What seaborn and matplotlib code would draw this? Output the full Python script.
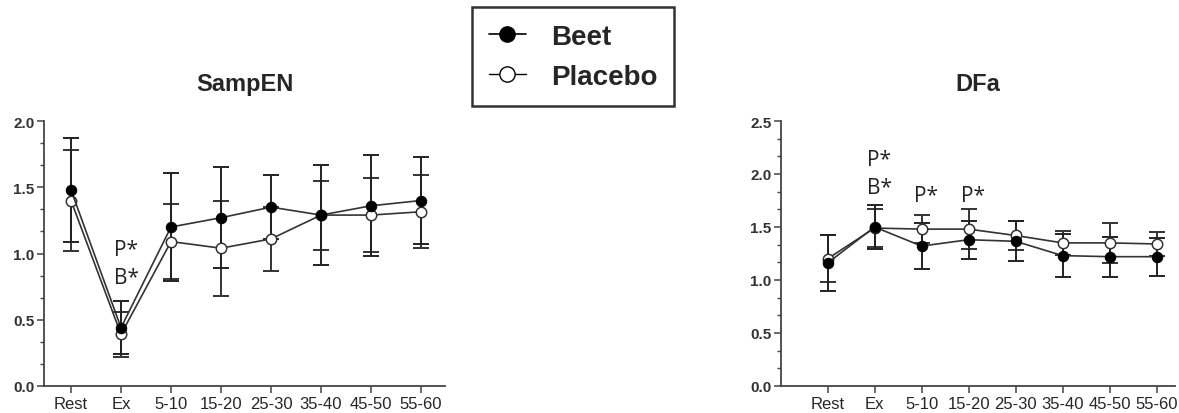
import matplotlib
matplotlib.use("Agg")
import matplotlib.pyplot as plt
import pandas as pd
import seaborn as sns
from matplotlib.lines import Line2D
from matplotlib.ticker import AutoMinorLocator, MultipleLocator

# x categories (time points)
stages = ["Rest", "Ex", "5-10", "15-20", "25-30", "35-40", "45-50", "55-60"]

# SampEN means and error bars
samp_beet = [1.48, 0.44, 1.20, 1.27, 1.35, 1.29, 1.36, 1.40]
samp_beet_err = [0.39, 0.20, 0.41, 0.38, 0.24, 0.38, 0.38, 0.33]
samp_placebo = [1.40, 0.39, 1.09, 1.04, 1.11, 1.29, 1.29, 1.315]
samp_placebo_err = [0.38, 0.17, 0.28, 0.36, 0.24, 0.26, 0.28, 0.275]

# DFa means and error bars
dfa_beet = [1.16, 1.50, 1.32, 1.38, 1.365, 1.23, 1.22, 1.22]
dfa_beet_err = [0.26, 0.21, 0.22, 0.18, 0.19, 0.20, 0.19, 0.18]
dfa_placebo = [1.20, 1.49, 1.48, 1.48, 1.42, 1.35, 1.35, 1.34]
dfa_placebo_err = [0.22, 0.18, 0.13, 0.19, 0.14, 0.11, 0.19, 0.11]

# significance marks: (stage index, y value, text)
samp_marks = [(1, 1.03, "P*"), (1, 0.82, "B*")]
dfa_marks = [(1, 2.14, "P*"), (1, 1.87, "B*"), (2, 1.80, "P*"), (3, 1.80, "P*")]

sns.set_style("ticks")
plt.rcParams["font.family"] = ["Liberation Sans", "DejaVu Sans"]

line_col = "#333333"
tick_font = ["Liberation Sans Narrow", "Liberation Sans", "DejaVu Sans"]


def draw_panel(ax, title, beet, beet_err, placebo, placebo_err, ymax, marks, xlim):
    pos = list(range(len(stages)))
    df = pd.DataFrame({"pos": pos * 2,
                       "value": placebo + beet,
                       "group": ["Placebo"] * len(pos) + ["Beet"] * len(pos)})
    # placebo first so beet sits on top
    ax.errorbar(pos, placebo, yerr=placebo_err, fmt="none", ecolor=line_col,
                elinewidth=1.4, capsize=6, capthick=1.4, zorder=2)
    ax.errorbar(pos, beet, yerr=beet_err, fmt="none", ecolor="#222222",
                elinewidth=1.4, capsize=6, capthick=1.4, zorder=2)
    sns.lineplot(data=df[df.group == "Placebo"], x="pos", y="value", ax=ax,
                 color=line_col, lw=1.2, marker="o", markersize=7.5,
                 markerfacecolor="white", markeredgecolor=line_col,
                 markeredgewidth=1.1, zorder=3)
    sns.lineplot(data=df[df.group == "Beet"], x="pos", y="value", ax=ax,
                 color=line_col, lw=1.2, marker="o", markersize=7.5,
                 markerfacecolor="black", markeredgecolor="black", zorder=4)
    for i, y, txt in marks:
        ax.text(i + 0.1, y, txt, ha="center", va="center", fontsize=15,
                family=["Open Sans", "DejaVu Sans"], color="#222222")

    ax.set_xlim(*xlim)
    ax.set_ylim(0, ymax)
    ax.set_xticks(pos)
    ax.set_xticklabels(stages, family=tick_font, fontsize=12)
    ax.yaxis.set_major_locator(MultipleLocator(0.5))
    ax.yaxis.set_minor_locator(AutoMinorLocator(3))
    ax.yaxis.set_major_formatter(plt.FormatStrFormatter("%.1f"))
    for lab in ax.get_yticklabels():
        lab.set_fontweight("bold")
        lab.set_fontsize(11)
        lab.set_color("#333333")
    ax.set_xlabel("")
    ax.set_ylabel("")
    ax.set_title(title, fontsize=17, fontweight="bold", pad=22)
    sns.despine(ax=ax)
    for sp in ("left", "bottom"):
        ax.spines[sp].set_color("#444444")
        ax.spines[sp].set_linewidth(1.3)
    ax.tick_params(axis="both", which="major", length=5, width=1.1,
                   color="#444444", pad=2)
    ax.tick_params(axis="y", which="minor", length=3, width=1.0, color="#444444")
    ax.spines["left"].set_bounds(0, ymax)


fig = plt.figure(figsize=(11.79, 4.14), dpi=100)
ax1 = fig.add_axes([44 / 1179, 27 / 414, 401 / 1179, 265 / 414])
ax2 = fig.add_axes([781 / 1179, 27 / 414, 394 / 1179, 265 / 414])

draw_panel(ax1, "SampEN", samp_beet, samp_beet_err, samp_placebo,
           samp_placebo_err, 2.0, samp_marks, (-0.54, 7.48))
draw_panel(ax2, "DFa", dfa_beet, dfa_beet_err, dfa_placebo,
           dfa_placebo_err, 2.5, dfa_marks, (-0.99, 7.39))

handles = [
    Line2D([], [], color="black", lw=1.2, marker="o", markersize=11,
           markerfacecolor="black"),
    Line2D([], [], color="black", lw=1.0, marker="o", markersize=11,
           markerfacecolor="white", markeredgewidth=1.0),
]
leg = fig.legend(handles, ["Beet", "Placebo"], loc="upper left",
                 bbox_to_anchor=(472 / 1179, 1 - 8 / 414),
                 prop={"weight": "bold", "size": 20}, frameon=True,
                 fancybox=False, handlelength=1.35, handletextpad=0.9,
                 borderpad=0.6, labelspacing=0.5, borderaxespad=0)
leg.get_frame().set_edgecolor("black")
leg.get_frame().set_linewidth(1.8)

fig.savefig("out.png", dpi=100)
